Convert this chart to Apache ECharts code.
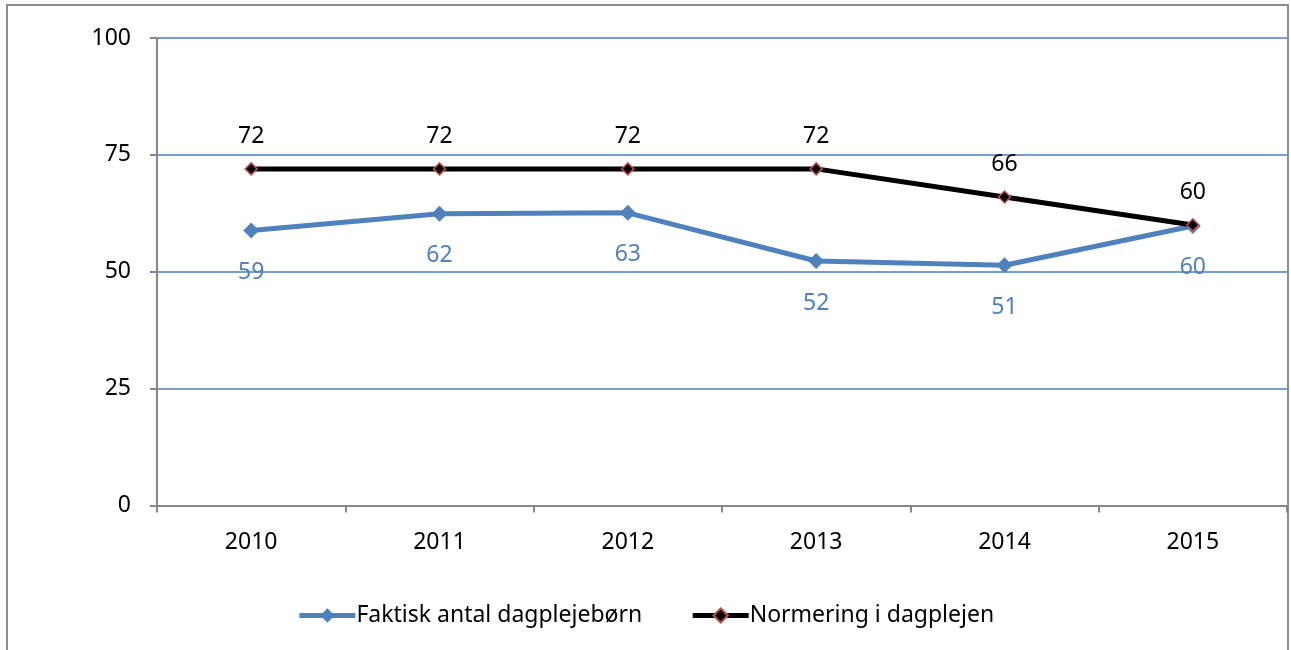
<!DOCTYPE html>
<html>
<head>
<meta charset="utf-8">
<script src="https://cdn.jsdelivr.net/npm/echarts@6/dist/echarts.min.js"></script>
<style>
html,body{margin:0;padding:0;background:#fff;}
#c{width:1291px;height:650px;}
</style>
</head>
<body>
<div id="c"></div>
<script>
var categories = ['2010','2011','2012','2013','2014','2015'];
var faktisk = [58.8, 62.4, 62.6, 52.3, 51.4, 59.8];
var faktiskLabels = ['59','62','63','52','51','60'];
var normering = [72, 72, 72, 72, 66, 60];
var normeringLabels = ['72','72','72','72','66','60'];
var yTicks = [0, 25, 50, 75, 100];

var FONT = '"Noto Sans", "Open Sans", sans-serif';
var chart = echarts.init(document.getElementById('c'), null, {renderer:'canvas'});
chart.setOption({
  animation: false,
  backgroundColor: '#fff',
  graphic: [{
    type: 'rect',
    shape: {x: 7, y: 5, width: 1281, height: 660},
    style: {fill: 'none', stroke: '#8c8c8c', lineWidth: 2},
    silent: true, z: -1
  }],
  grid: {left: 157, top: 38, right: 4, bottom: 144.5, containLabel: false},
  legend: {
    bottom: 18, left: 'center', itemGap: 48,
    itemWidth: 56, itemHeight: 18,
    lineStyle: {width: 5},
    textStyle: {fontFamily: FONT, fontSize: 23, color: '#000', padding: [0,0,0,-4]},
    data: ['Faktisk antal dagplejebørn', 'Normering i dagplejen']
  },
  xAxis: {
    type: 'category', data: categories, boundaryGap: true,
    axisLine: {lineStyle: {color: '#868686', width: 2}},
    axisTick: {show: true, length: 7, lineStyle: {color: '#868686', width: 2}},
    axisLabel: {fontFamily: FONT, fontSize: 23, color: '#000', margin: 25},
    splitLine: {show: false}
  },
  yAxis: {
    type: 'value', min: yTicks[0], max: yTicks[yTicks.length-1], interval: 25,
    axisLine: {show: true, lineStyle: {color: '#868686', width: 2}},
    axisTick: {show: true, length: 7, lineStyle: {color: '#868686', width: 2}},
    axisLabel: {fontFamily: FONT, fontSize: 23, color: '#000', margin: 26,
      formatter: function(v){ return yTicks.indexOf(v) >= 0 ? String(v) : ''; }},
    splitLine: {show: true, lineStyle: {color: '#4a7ebb', width: 1.5}}
  },
  series: [{
    name: 'Faktisk antal dagplejebørn',
    type: 'line', data: faktisk,
    symbol: 'diamond', symbolSize: 16,
    lineStyle: {color: '#4f81bd', width: 5},
    itemStyle: {color: '#4f81bd'},
    label: {show: true, position: 'bottom', distance: 23,
      fontFamily: FONT, fontSize: 23, color: '#4f81bd', lineHeight: 22,
      formatter: function(p){ return faktiskLabels[p.dataIndex]; }},
    z: 2
  }, {
    name: 'Normering i dagplejen',
    type: 'line', data: normering,
    symbol: 'diamond', symbolSize: 12,
    lineStyle: {color: '#000', width: 5},
    itemStyle: {color: '#000', borderColor: '#c0504d', borderWidth: 1.5},
    label: {show: true, position: 'top', distance: 15,
      fontFamily: FONT, fontSize: 23, color: '#000', lineHeight: 22,
      formatter: function(p){ return normeringLabels[p.dataIndex]; }},
    z: 3
  }]
});
</script>
</body>
</html>
